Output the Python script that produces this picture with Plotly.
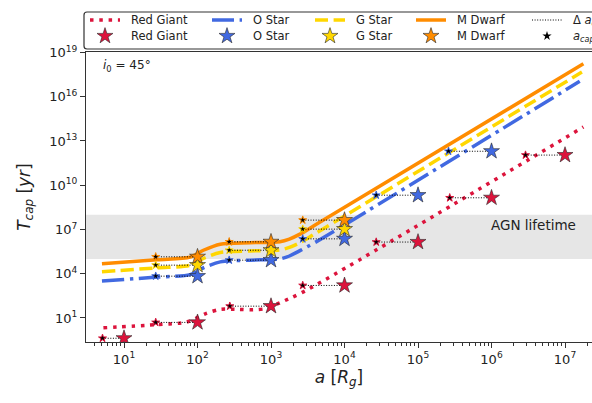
import numpy as np
import plotly.graph_objects as go

# ---- T_cap(a) model curves: log10(a / R_g) and log10(T_cap / yr) ----
rg_curve_log_a = [0.72, 1.45, 1.85, 2.12, 2.31, 2.55, 2.76, 2.94, 3.12, 3.44, 7.25]
rg_curve_log_t = [0.33, 0.55, 0.72, 1.31, 1.58, 1.58, 1.55, 1.65, 2.03, 2.77, 13.95]
o_curve_log_a = [0.70, 1.45, 1.90, 2.08, 2.31, 2.71, 3.12, 3.25, 3.40, 3.60, 7.20]
o_curve_log_t = [3.50, 3.77, 3.94, 4.40, 4.80, 4.92, 5.00, 5.20, 5.58, 6.12, 17.04]
g_curve_log_a = [0.70, 1.45, 1.90, 2.08, 2.31, 2.71, 3.12, 3.25, 3.40, 3.60, 7.23]
g_curve_log_t = [4.13, 4.40, 4.57, 5.03, 5.44, 5.54, 5.61, 5.78, 6.12, 6.71, 17.67]
m_curve_log_a = [0.70, 1.45, 1.90, 2.08, 2.31, 2.71, 3.12, 3.25, 3.40, 3.60, 7.25]
m_curve_log_t = [4.68, 4.95, 5.12, 5.59, 6.00, 6.10, 6.17, 6.35, 6.70, 7.30, 18.23]

# ---- sampled stars: orbital radius, capture time, and capture radius a_cap ----
rg_a = [1e1, 1e2, 1e3, 1e4, 1e5, 1e6, 1e7]
rg_t = [0.42, 5.0, 63, 1.6e3, 1.4e6, 1.4e9, 1.1e12]
rg_acap = [5.1, 27, 275, 2.7e3, 2.7e4, 2.7e5, 2.9e6]

o_a = [1e2, 1e3, 1e4, 1e5, 1e6]
o_t = [6.8e3, 8.3e4, 2.3e6, 2.1e9, 2.0e12]
o_acap = [27, 270, 2.7e3, 2.7e4, 2.6e5]

g_a = [1e2, 1e3, 1e4]
g_t = [3.8e4, 3.9e5, 1.05e7]
g_acap = [27, 270, 2.7e3]

m_a = [1e2, 1e3, 1e4]
m_t = [1.4e5, 1.45e6, 4.3e7]
m_acap = [27, 270, 2.7e3]

agn_lifetime = [1e5, 1e8]

x_range = [0.483, 7.367]
y_range = [-0.63, 19.03]
x_tick_exp = [1, 2, 3, 4, 5, 6, 7]
y_tick_exp = [1, 4, 7, 10, 13, 16, 19]

RED, BLUE, GOLD, ORANGE = "#DC143C", "#4169E1", "#FFD700", "#FF8C00"
FONT = "DejaVu Sans"
TXT = "#222"

W, H = 592, 403
M_L, M_B = 86, 61
PAPER_H = H - M_B          # paper spans the full height above the bottom margin
PLOT_TOP = 52              # pixel row of the top frame of the main axes

species = [
    ("Red Giant", RED, "3.5px,5.8px", rg_curve_log_a, rg_curve_log_t, rg_a, rg_t, rg_acap),
    ("O Star", BLUE, "22px,5.6px,3.5px,5.6px", o_curve_log_a, o_curve_log_t, o_a, o_t, o_acap),
    ("G Star", GOLD, "13px,5.6px", g_curve_log_a, g_curve_log_t, g_a, g_t, g_acap),
    ("M Dwarf", ORANGE, "solid", m_curve_log_a, m_curve_log_t, m_a, m_t, m_acap),
]

fig = go.Figure()

# AGN lifetime band
fig.add_shape(type="rect", xref="x domain", x0=0, x1=1, yref="y",
              y0=agn_lifetime[0], y1=agn_lifetime[1],
              fillcolor="#e6e6e6", line_width=0, layer="below")

# model curves
for name, col, dash, la, lt, *_ in species:
    fig.add_trace(go.Scatter(
        x=10 ** np.array(la), y=10 ** np.array(lt), mode="lines", name=name,
        line=dict(color=col, width=3.5, dash=dash, shape="spline", smoothing=0.8),
        showlegend=False,
    ))

# dotted segments from a_cap to a
dx, dy = [], []
for _, _, _, _, _, a, t, acap in species:
    for ai, ti, ci in zip(a, t, acap):
        dx += [ci, ai, None]
        dy += [ti, ti, None]
fig.add_trace(go.Scatter(
    x=dx, y=dy, mode="lines", name="Δ a_cap", showlegend=False,
    line=dict(color="black", width=1, dash="1px,1.6px"),
))

# stars at the sampled radii
for name, col, _, _, _, a, t, _ in species:
    fig.add_trace(go.Scatter(
        x=a, y=t, mode="markers", name=name, showlegend=False,
        marker=dict(symbol="star", size=12, color=col,
                    line=dict(color="rgba(40,40,40,0.75)", width=0.8)),
    ))

# capture radii
cx, cy, cc = [], [], []
for _, col, _, _, _, a, t, acap in species:
    cx += list(acap)
    cy += list(t)
    cc += [col] * len(acap)
fig.add_trace(go.Scatter(
    x=cx, y=cy, mode="markers", name="a_cap", showlegend=False,
    marker=dict(symbol="star", size=6, color="black", line=dict(color=cc, width=1)),
))

# ---------------- legend, drawn on a pixel-unit overlay axis pair ----------------
LEG_TOP, LEG_BOT = 12, 49
ROW1, ROW2 = 20, 36
col_x = [90, 212, 315, 416, 532]          # left end of each legend sample
SAMPLE_LEN = 30
TEXT_GAP = 39

def py(p):
    return (PAPER_H - p) / PAPER_H

legend_lines = [(RED, "3.5px,5.8px", 3.5), (BLUE, "22px,5.6px,3.5px,5.6px", 3.5),
                (GOLD, "13px,5.6px", 3.5), (ORANGE, "solid", 3.5), ("black", "1px,1.6px", 1)]
line_labels = ["Red Giant", "O Star", "G Star", "M Dwarf", "Δ <i>a</i><sub><i>cap</i></sub>"]
marker_labels = ["Red Giant", "O Star", "G Star", "M Dwarf", "<i>a</i><sub><i>cap</i></sub>"]

for x0, (col, dash, lw) in zip(col_x, legend_lines):
    fig.add_trace(go.Scatter(x=[x0, x0 + SAMPLE_LEN], y=[ROW1, ROW1], mode="lines",
                             xaxis="x2", yaxis="y2", showlegend=False, hoverinfo="skip",
                             line=dict(color=col, width=lw, dash=dash)))
for x0, (_, col, *_) in zip(col_x[:4], species):
    fig.add_trace(go.Scatter(x=[x0 + SAMPLE_LEN / 2], y=[ROW2], mode="markers",
                             xaxis="x2", yaxis="y2", showlegend=False, hoverinfo="skip",
                             marker=dict(symbol="star", size=12, color=col,
                                         line=dict(color="rgba(40,40,40,0.75)", width=0.8))))
fig.add_trace(go.Scatter(x=[col_x[4] + SAMPLE_LEN / 2], y=[ROW2], mode="markers",
                         xaxis="x2", yaxis="y2", showlegend=False, hoverinfo="skip",
                         marker=dict(symbol="star", size=7, color="black")))

for x0, t1, t2 in zip(col_x, line_labels, marker_labels):
    for row, txt in ((ROW1, t1), (ROW2, t2)):
        fig.add_annotation(text=txt, xref="x2", yref="y2", x=x0 + TEXT_GAP, y=row,
                           xanchor="left", yanchor="middle", showarrow=False,
                           font=dict(family=FONT, size=11.5, color=TXT))

# legend frame with rounded left corners (runs past the right edge)
r = 3
lx0, lx1 = (84 - M_L) / (W - M_L), (660 - M_L) / (W - M_L)
fig.add_shape(type="path", xref="paper", yref="paper",
              path=(f"M {lx0 + r / (W - M_L)},{py(LEG_TOP)} L {lx1},{py(LEG_TOP)} "
                    f"L {lx1},{py(LEG_BOT)} L {lx0 + r / (W - M_L)},{py(LEG_BOT)} "
                    f"Q {lx0},{py(LEG_BOT)} {lx0},{py(LEG_BOT - r)} "
                    f"L {lx0},{py(LEG_TOP + r)} Q {lx0},{py(LEG_TOP)} "
                    f"{lx0 + r / (W - M_L)},{py(LEG_TOP)} Z"),
              line=dict(color="#333", width=1.2), fillcolor="rgba(255,255,255,0.8)",
              layer="below")

# ---------------- annotations inside the axes ----------------
fig.add_annotation(text="<i>i</i><sub>0</sub> = 45°", xref="x domain", yref="y domain",
                   x=0.03, y=0.953, xanchor="left", yanchor="middle", showarrow=False,
                   font=dict(family=FONT, size=12, color=TXT))
fig.add_annotation(text="AGN lifetime", xref="x domain", yref="y",
                   x=0.972, y=7.29, xanchor="right", yanchor="middle", showarrow=False,
                   font=dict(family=FONT, size=13.5, color=TXT))

minor_vals = [m * 10 ** k for k in range(0, 8) for m in range(2, 10)]

fig.update_layout(
    xaxis=dict(
        type="log", range=x_range, domain=[0, 1], anchor="y",
        tickvals=[10 ** e for e in x_tick_exp],
        ticktext=[f"10<sup>{e}</sup>" for e in x_tick_exp],
        ticks="outside", ticklen=5, tickwidth=1, tickcolor="#333",
        minor=dict(tickvals=minor_vals, ticks="outside", ticklen=2.5, tickwidth=0.8,
                   tickcolor="#333"),
        showline=True, linecolor="#333", linewidth=1.3, mirror=True,
        showgrid=False, zeroline=False,
        tickfont=dict(family=FONT, size=13, color=TXT),
        title=dict(text="<i>a</i> [<i>R</i><sub><i>g</i></sub>]", standoff=4,
                   font=dict(family=FONT, size=17, color=TXT)),
    ),
    yaxis=dict(
        type="log", range=y_range, domain=[0, py(PLOT_TOP)], anchor="x",
        tickvals=[10 ** e for e in y_tick_exp],
        ticktext=[f"10<sup>{e}</sup>" for e in y_tick_exp],
        ticks="outside", ticklen=5, tickwidth=1, tickcolor="#333",
        showline=True, linecolor="#333", linewidth=1.3, mirror=False,
        showgrid=False, zeroline=False,
        tickfont=dict(family=FONT, size=13, color=TXT),
        title=dict(text="<i>T</i><sub><i>cap</i></sub> [<i>yr</i>]", standoff=14,
                   font=dict(family=FONT, size=17, color=TXT)),
    ),
    xaxis2=dict(domain=[0, 1], range=[M_L, W], anchor="y2", visible=False,
                fixedrange=True),
    yaxis2=dict(domain=[py(LEG_BOT + 6), py(LEG_TOP - 6)],
                range=[LEG_BOT + 6, LEG_TOP - 6], anchor="x2", visible=False,
                fixedrange=True),
    width=W, height=H,
    margin=dict(l=M_L, r=0, t=0, b=M_B, autoexpand=False),
    plot_bgcolor="rgba(0,0,0,0)", paper_bgcolor="white",
    font=dict(family=FONT, color=TXT),
    showlegend=False,
)

fig.write_html("out.html")
